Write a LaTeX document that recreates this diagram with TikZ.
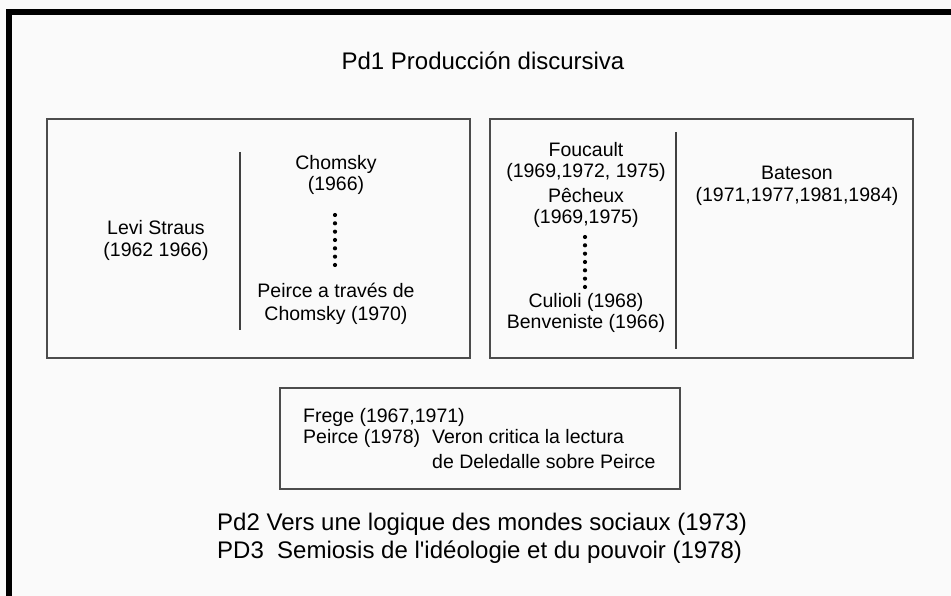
\documentclass[tikz,border=0pt]{standalone}
\usepackage{fontspec}
\setmainfont{Liberation Sans}[Ligatures=TeXOff]
\begin{document}
\begin{tikzpicture}[x=1pt,y=-1pt,
  boxtxt/.style={anchor=base,inner sep=0pt,font=\fontsize{19.5}{22}\selectfont,text=black},
  bigtxt/.style={anchor=base,inner sep=0pt,font=\fontsize{24}{28}\selectfont,text=black},
  frame/.style={draw=black!70,line width=1.4pt},
  divider/.style={draw=black!75,line width=1.4pt},
  dotline/.style={draw=black,line width=4.2pt,line cap=round,dash pattern=on 0pt off 8.33pt}]
\useasboundingbox (0,0) rectangle (951,596);
\fill[white!98!black] (0,0) rectangle (951,596);
% outer frame (only top and left visible)
\draw[line width=6pt,black] (9,600) -- (9,12) -- (955,12);

% title
\node[bigtxt] (title) at (483,70) {Pd1 Producción discursiva};

% left box
\draw[frame] (47,119) rectangle (470,358);
\coordinate (ldivtop) at (240,152);
\coordinate (ldivbot) at (240,330);
\draw[divider] (ldivtop) -- (ldivbot);
\node[boxtxt] (levi1) at (156,235) {Levi Straus};
\node[boxtxt] (levi2) at (156,257) {(1962 1966)};
\node[boxtxt] (chom1) at (336,170) {Chomsky};
\node[boxtxt] (chom2) at (336,191) {(1966)};
\node[boxtxt] (peir1) at (336,298) {Peirce a través de};
\node[boxtxt] (peir2) at (336,320) {Chomsky (1970)};
\coordinate (ldottop) at (335,215);
\coordinate (ldotbot) at (335,265.1);
\draw[dotline] (ldottop) -- (ldotbot);

% right box
\draw[frame] (490,119) rectangle (913,358);
\coordinate (rdivtop) at (676,132);
\coordinate (rdivbot) at (676,349);
\draw[divider] (rdivtop) -- (rdivbot);
\node[boxtxt] (fou1) at (586,157) {Foucault};
\node[boxtxt] (fou2) at (586,178) {(1969,1972, 1975)};
\node[boxtxt] (pec1) at (586,203) {Pêcheux};
\node[boxtxt] (pec2) at (586,224) {(1969,1975)};
\node[boxtxt] (cul) at (586,307) {Culioli (1968)};
\node[boxtxt] (ben) at (586,328) {Benveniste (1966)};
\coordinate (rdottop) at (585,237);
\coordinate (rdotbot) at (585,287.1);
\draw[dotline] (rdottop) -- (rdotbot);
\node[boxtxt] (bat1) at (797,180) {Bateson};
\node[boxtxt] (bat2) at (797,202) {(1971,1977,1981,1984)};

% lower box
\draw[frame] (280,388) rectangle (680,489);
\node[boxtxt,anchor=base west] (frege) at (303,422) {Frege (1967,1971)};
\node[boxtxt,anchor=base west] (peirce) at (303,443) {Peirce (1978)};
\node[boxtxt,anchor=base west] (veron1) at (432,443) {Veron critica la lectura};
\node[boxtxt,anchor=base west] (veron2) at (432,468) {de Deledalle sobre Peirce};

% bottom texts
\node[bigtxt,anchor=base west] (pd2) at (217,530) {Pd2 Vers une logique des mondes sociaux (1973)};
\node[bigtxt,anchor=base west] (pd3) at (217,558) {PD3\ \ Semiosis de l'idéologie et du pouvoir (1978)};
\end{tikzpicture}
\end{document}
